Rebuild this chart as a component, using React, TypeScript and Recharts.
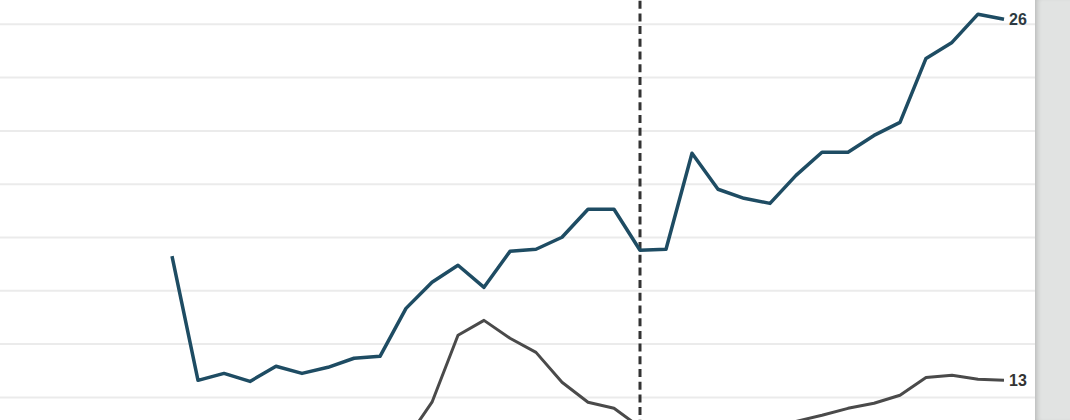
import { LineChart, Line, XAxis, YAxis, CartesianGrid, ReferenceLine, LabelList } from 'recharts';

const years = [
  '1990', '1991', '1992', '1993', '1994', '1995', '1996', '1997', '1998', '1999', '2000',
  '2001', '2002', '2003', '2004', '2005', '2006', '2007', '2008', '2009', '2010', '2011',
  '2012', '2013', '2014', '2015', '2016', '2017', '2018', '2019', '2020', '2021', '2022',
];

const blueValues = [
  17.3, 12.64, 12.9, 12.6, 13.17, 12.9, 13.13, 13.47, 13.54, 15.34, 16.32,
  16.96, 16.13, 17.48, 17.56, 18.01, 19.06, 19.06, 17.52, 17.56, 21.16, 19.81,
  19.47, 19.28, 20.33, 21.2, 21.2, 21.83, 22.32, 24.72, 25.32, 26.38, 26.19,
];

const grayValues = [
  null, null, null, null, null, null, null, null, null, 10.4, 11.82,
  14.33, 14.89, 14.22, 13.69, 12.57, 11.82, 11.59, 10.88, 10.6, 10.5, 10.6,
  10.7, 10.9, 11.1, 11.33, 11.59, 11.78, 12.08, 12.75, 12.83, 12.68, 12.64,
];

const yTicks = [8, 10, 12, 14, 16, 18, 20, 22, 24, 26, 28];
const markerYear = '2008';

const BLUE = '#1e4c63';
const GRAY = '#4a4a4a';

const data = years.map((year, i) => ({ year, blue: blueValues[i], gray: grayValues[i] }));

const endLabel = (lastIndex: number, color: string) => (props: any) => {
  const { x, y, value, index } = props;
  if (index !== lastIndex || value == null) return null;
  return (
    <text
      x={Number(x) + 5}
      y={Number(y)}
      dy="0.36em"
      fill={color}
      fontSize={16}
      fontWeight="bold"
      fontFamily="'Liberation Sans', Arial, sans-serif"
    >
      {Math.round(Number(value))}
    </text>
  );
};

export default function App() {
  return (
    <div
      style={{
        position: 'absolute',
        left: 0,
        top: 0,
        width: 1070,
        height: 420,
        overflow: 'hidden',
        background: '#fff',
      }}
    >
      <div style={{ position: 'absolute', left: 0, top: -39 }}>
        <LineChart width={1070} height={553} data={data} margin={{ top: 10, right: 35, bottom: 10, left: 0 }}>
          <CartesianGrid vertical={false} stroke="#ebebeb" strokeWidth={2} />
          <XAxis dataKey="year" hide padding={{ left: 172, right: 31 }} />
          <YAxis hide domain={[8, 28]} ticks={yTicks} />
          <ReferenceLine x={markerYear} stroke="#333" strokeWidth={3} strokeDasharray="8 4.7" />
          <Line
            dataKey="gray"
            stroke={GRAY}
            strokeWidth={3}
            dot={false}
            activeDot={false}
            strokeLinejoin="round"
            strokeLinecap="butt"
            isAnimationActive={false}
          >
            <LabelList dataKey="gray" content={endLabel(years.length - 1, '#333')} />
          </Line>
          <Line
            dataKey="blue"
            stroke={BLUE}
            strokeWidth={3.5}
            dot={false}
            activeDot={false}
            strokeLinejoin="round"
            strokeLinecap="butt"
            isAnimationActive={false}
          >
            <LabelList dataKey="blue" content={endLabel(years.length - 1, '#2d3a42')} />
          </Line>
        </LineChart>
      </div>
      <div
        style={{
          position: 'absolute',
          left: 1035,
          top: 0,
          width: 35,
          height: 420,
          background: '#e1e3e2',
          boxShadow: 'inset 5px 0 5px -3px rgba(0,0,0,0.18)',
        }}
      />
    </div>
  );
}
